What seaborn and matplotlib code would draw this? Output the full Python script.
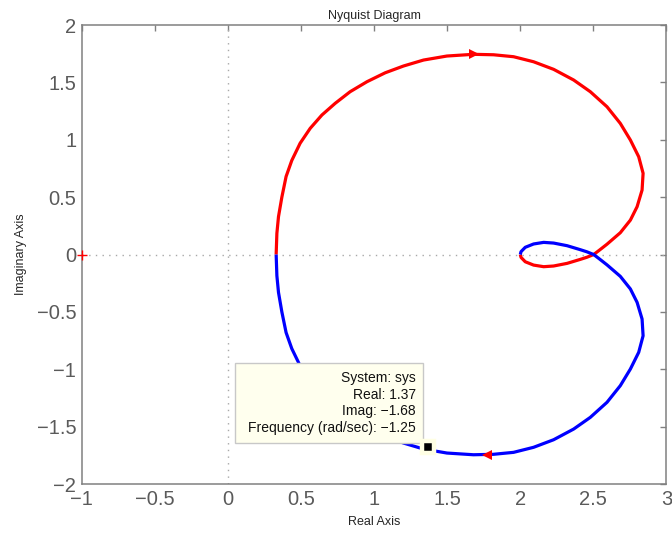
import numpy as np
import pandas as pd
import matplotlib
matplotlib.use("Agg")
import matplotlib.pyplot as plt
from matplotlib.patches import Rectangle
import seaborn as sns

# Nyquist response of sys, positive frequencies (w: 0 -> +inf)
pos_re = [0.330, 0.335, 0.346, 0.369, 0.398, 0.437, 0.494, 0.563, 0.643, 0.734,
          0.836, 0.951, 1.076, 1.201, 1.338, 1.498, 1.680, 1.817, 1.954, 2.091,
          2.228, 2.365, 2.479, 2.593, 2.684, 2.753, 2.810, 2.840, 2.833, 2.799,
          2.753, 2.684, 2.593, 2.545, 2.502, 2.455, 2.411, 2.320, 2.228, 2.160,
          2.091, 2.034, 2.005, 2.000]
pos_im = [0.000, 0.185, 0.330, 0.500, 0.680, 0.820, 0.970, 1.100, 1.216, 1.318,
          1.419, 1.506, 1.584, 1.643, 1.695, 1.730, 1.745, 1.741, 1.724, 1.680,
          1.614, 1.521, 1.419, 1.288, 1.143, 0.998, 0.852, 0.708, 0.562, 0.417,
          0.300, 0.190, 0.090, 0.042, 0.000, -0.024, -0.042, -0.077, -0.100, -0.106,
          -0.092, -0.063, -0.025, 0.000]

# Negative frequencies (w: -inf -> 0)
neg_re = [2.000, 2.005, 2.034, 2.091, 2.160, 2.228, 2.320, 2.411, 2.455, 2.502,
          2.545, 2.593, 2.684, 2.753, 2.799, 2.833, 2.840, 2.810, 2.753, 2.684,
          2.593, 2.479, 2.365, 2.228, 2.091, 1.954, 1.817, 1.680, 1.498, 1.338,
          1.201, 1.076, 0.951, 0.836, 0.734, 0.643, 0.563, 0.494, 0.437, 0.398,
          0.369, 0.346, 0.335, 0.330]
neg_im = [0.000, 0.025, 0.063, 0.092, 0.106, 0.100, 0.077, 0.042, 0.024, 0.000,
          -0.042, -0.090, -0.190, -0.300, -0.417, -0.562, -0.708, -0.852, -0.998, -1.143,
          -1.288, -1.419, -1.521, -1.614, -1.680, -1.724, -1.741, -1.745, -1.730, -1.695,
          -1.643, -1.584, -1.506, -1.419, -1.318, -1.216, -1.100, -0.970, -0.820, -0.680,
          -0.500, -0.330, -0.185, 0.000]

# Direction arrows and data tip
arrow_pos = (1.68, 1.745)
arrow_neg = (1.77, -1.743)
tip_re, tip_im, tip_freq = 1.37, -1.68, -1.25

xticks = [-1, -0.5, 0, 0.5, 1, 1.5, 2, 2.5, 3]
yticks = [-2, -1.5, -1, -0.5, 0, 0.5, 1, 1.5, 2]


def fmt(v):
    return f"{v:g}".replace("-", "\u2212")


df = pd.concat([
    pd.DataFrame({"Real": pos_re, "Imag": pos_im, "branch": "pos"}),
    pd.DataFrame({"Real": neg_re, "Imag": neg_im, "branch": "neg"}),
], ignore_index=True)

sns.set_style("white")
plt.rcParams["font.family"] = ["Liberation Sans", "DejaVu Sans"]
plt.rcParams["lines.solid_joinstyle"] = "round"
plt.rcParams["lines.solid_capstyle"] = "butt"

fig = plt.figure(figsize=(6.72, 5.33), dpi=100)
ax = fig.add_axes([0.1216, 0.0919, 0.8702, 0.8611])

# reference lines through the origin
dot = dict(color="#a8a8a8", lw=1.0, dashes=(1.0, 3.8), zorder=1)
ax.axhline(0, **dot)
ax.axvline(0, **dot)

sns.lineplot(data=df, x="Real", y="Imag", hue="branch", units="branch",
             estimator=None, sort=False, palette={"pos": "#ff0000", "neg": "#0000ff"},
             linewidth=2.3, legend=False, ax=ax, zorder=3)

# frequency direction arrows
ax.plot([arrow_pos[0]], [arrow_pos[1]], marker=">", color="#ff0000", ms=6.5, mew=0, zorder=4)
ax.plot([arrow_neg[0]], [arrow_neg[1]], marker="<", color="#ff0000", ms=6.5, mew=0, zorder=4)

# critical point
ax.plot([-1], [0], marker="+", color="#ff0000", ms=7, mew=1.0, clip_on=False, zorder=5)

# data tip marker
ax.plot([tip_re], [tip_im], marker="s", color="black", ms=8.5, mec="#ffffe4", mew=3.2, zorder=6)

# data tip box
box = Rectangle((0.049, -1.640), 1.285, 0.692, facecolor="#ffffee",
                edgecolor="#c8c8c8", lw=1.0, zorder=5)
ax.add_patch(box)
lines = ["System: sys", f"Real: {fmt(tip_re)}", f"Imag: {fmt(tip_im)}",
         f"Frequency (rad/sec): {fmt(tip_freq)}"]
for i, t in enumerate(lines):
    ax.text(1.285, -1.079 - i * 0.1435, t, ha="right", va="center",
            fontsize=10, color="#111111", zorder=6)

ax.set_xlim(-1, 3)
ax.set_ylim(-2, 2)
ax.set_xticks(xticks)
ax.set_yticks(yticks)
ax.set_xticklabels([fmt(v) for v in xticks])
ax.set_yticklabels([fmt(v) for v in yticks])

ax.tick_params(axis="both", direction="in", length=4, width=1.0, color="#808080",
               labelsize=14.5, labelcolor="#5a5a5a", top=True, right=True)
ax.tick_params(axis="y", pad=4)
ax.tick_params(axis="x", pad=4)
for s in ax.spines.values():
    s.set_color("#808080")
    s.set_linewidth(1.1)
    s.set_visible(True)

ax.set_title("Nyquist Diagram", fontsize=9, pad=4)
ax.set_xlabel("Real Axis", fontsize=9, labelpad=5)
ax.set_ylabel("Imaginary Axis", fontsize=9, labelpad=7)

fig.savefig("out.png", dpi=100)
